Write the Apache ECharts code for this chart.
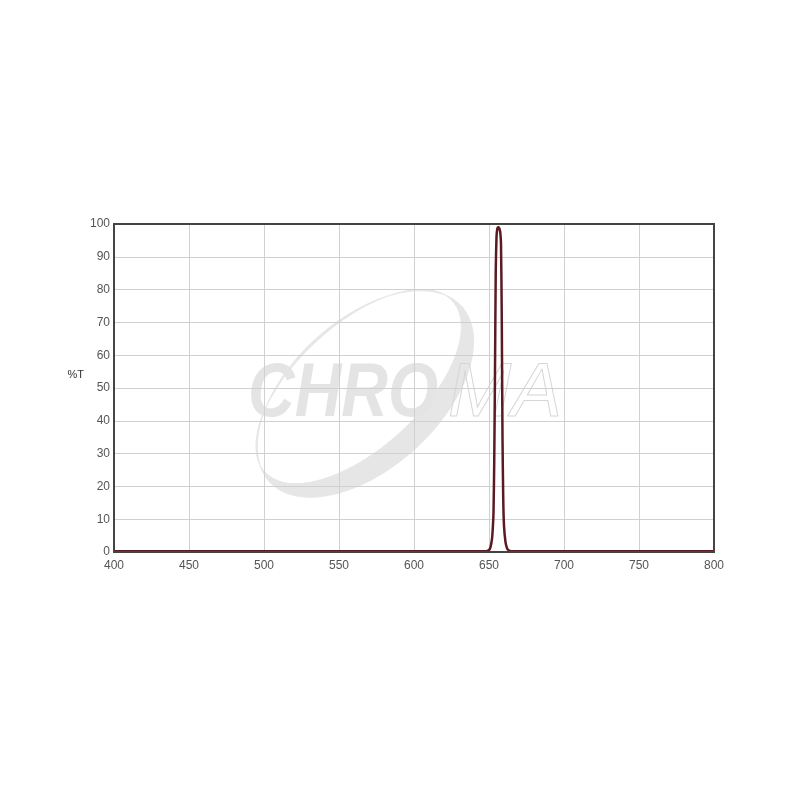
<!DOCTYPE html>
<html><head><meta charset="utf-8">
<script src="https://cdn.jsdelivr.net/npm/echarts@6/dist/echarts.min.js"></script>
<style>html,body{margin:0;padding:0;background:#fff}#c{width:800px;height:800px}</style>
</head><body><div id="c"></div>
<script>
const wavelengths = [400, 450, 500, 550, 600, 640, 648, 650, 651, 652, 652.5, 653, 653.5, 654, 654.5, 655, 655.5, 656, 656.5, 657, 657.5, 658, 658.5, 659, 659.5, 660, 661, 662, 663, 665, 700, 750, 800];
const transmission = [0.2, 0.2, 0.2, 0.2, 0.2, 0.2, 0.2, 0.6, 1.5, 4, 7, 12, 28, 55, 86, 96, 98.5, 99, 99, 98.5, 97.5, 94, 72, 35, 16, 8, 3, 1.2, 0.5, 0.2, 0.2, 0.2, 0.2];
const xTicks = [400, 450, 500, 550, 600, 650, 700, 750, 800];
const yTicks = [0, 10, 20, 30, 40, 50, 60, 70, 80, 90, 100];

// decorative watermark swoosh (crescent between two ellipses)
function ellipsePts(cy, a, b, reverse) {
  const pts = [];
  const n = 120;
  for (let i = 0; i <= n; i++) {
    const t = (reverse ? (n - i) : i) / n * Math.PI * 2;
    pts.push([a * Math.cos(t), cy + b * Math.sin(t)]);
  }
  return pts;
}
const swoosh = ellipsePts(8, 130, 74, false).concat(ellipsePts(-2, 127, 62, true));

const chart = echarts.init(document.getElementById('c'));
const font = 'Liberation Sans, Arial, sans-serif';
chart.setOption({
  animation: false,
  backgroundColor: '#fff',
  grid: { left: 114, right: 86, top: 224, bottom: 248, show: true, borderColor: '#444', borderWidth: 2, z: 5 },
  graphic: [
    { type: 'group', x: 0, y: 0, z: -10, silent: true, children: [
      { type: 'polygon', x: 360, y: 388, rotation: 0.74, z: -10, shape: { points: swoosh },
        style: { fill: '#e6e6e6', stroke: '#e6e6e6', lineWidth: 1 } },
      { type: 'text', x: 248, y: 395, scaleX: 0.85, z: -10,
        style: { text: 'CHRO', font: 'italic bold 76px Liberation Sans', fill: '#e4e4e4', verticalAlign: 'middle' } },
      { type: 'text', x: 448, y: 395, z: -10,
        style: { text: 'MA', font: 'italic 76px Liberation Sans', fill: 'none', stroke: '#d6d6d6', lineWidth: 1, verticalAlign: 'middle' } }
    ]}
  ],
  xAxis: {
    type: 'value', min: 400, max: 800, interval: 50,
    axisLine: { show: false },
    axisTick: { show: false },
    axisLabel: { color: '#555', fontSize: 12, fontFamily: font, margin: 8 },
    splitLine: { show: true, lineStyle: { color: '#d0d0d0', width: 1 } }
  },
  yAxis: {
    type: 'value', min: 0, max: 100, interval: 10,
    name: '%T', nameLocation: 'middle', nameRotate: 0, nameGap: 29,
    nameTextStyle: { color: '#333', fontSize: 11, fontFamily: font, align: 'right', verticalAlign: 'bottom', lineHeight: 26 },
    axisLine: { show: false },
    axisTick: { show: false },
    axisLabel: { color: '#555', fontSize: 12, fontFamily: font, margin: 4 },
    splitLine: { show: true, lineStyle: { color: '#d0d0d0', width: 1 } }
  },
  series: [{
    type: 'line', showSymbol: false, smooth: 0.2, z: 3,
    data: wavelengths.map((w, i) => [w, transmission[i]]),
    lineStyle: { color: '#5a1a22', width: 2.5 }
  }]
});
</script></body></html>
